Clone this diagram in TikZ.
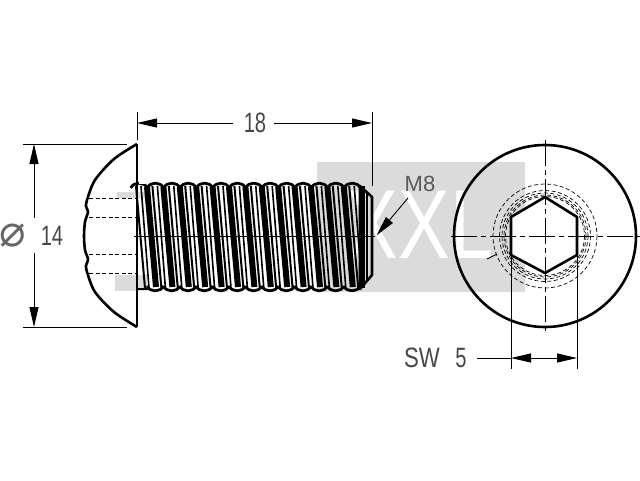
\documentclass[tikz,border=0pt]{standalone}
\usepackage{fontspec}
\usetikzlibrary{arrows.meta}
\setmainfont{Liberation Sans}
\newfontfamily\symbfont{DejaVu Sans}
\tikzset{
  dimline/.style={black,line width=0.9pt,{Triangle[length=20pt,width=9pt]}-{Triangle[length=20pt,width=9pt]}},
  dimend/.style={black,line width=0.9pt,-{Triangle[length=20pt,width=9pt]}},
  plainline/.style={black,line width=0.9pt},
  heavyline/.style={black,line width=2.6pt,line join=round},
  hiddenline/.style={black,line width=0.7pt,dash pattern=on 4pt off 2.5pt},
  centreline/.style={black,line width=0.9pt,dash pattern=on 26pt off 4pt on 5pt off 4pt},
  dimtext/.style={inner sep=0pt,text=black!72,xscale=0.72,font=\fontsize{28}{28}\selectfont},
  smalltext/.style={inner sep=0pt,text=black!65,font=\fontsize{22}{22}\selectfont},
}
\begin{document}
\begin{tikzpicture}[x=1pt,y=-1pt]
\useasboundingbox (0,0) rectangle (640,480);
\fill [black!14] (317,162) rectangle (525,292);
\fill [black!14] (117,192) rectangle (147,198);
\fill [black!14] (115,275) rectangle (147,291);
\node (logo) [inner sep=0pt,text=white,xscale=0.79,font=\fontsize{98}{98}\selectfont] at (420,225) {XXL};
% head
\draw [heavyline] (137,144) -- (137,327);
\draw [heavyline] plot [smooth,tension=0.5] coordinates {(137,144) (114,159) (95,180) (87,200) (86,207)};
\draw [heavyline] plot [smooth,tension=0.5] coordinates {(86,207) (88,212) (85,222) (84,236) (85,250) (88,259) (86,265)};
\draw [heavyline] plot [smooth,tension=0.5] coordinates {(86,265) (87,272) (95,292) (114,312) (137,327)};
\draw [heavyline] (137,289) -- (150,289);
\foreach \y in {198,217,254,273}
  \draw [hiddenline] (89,\y) -- (137,\y);
% thread
\foreach \i in {0,...,13} {
  \pgfmathsetmacro{\xc}{139+16.4*\i}
  \pgfmathsetmacro{\xl}{\xc-8.2}
  \pgfmathsetmacro{\xr}{\xc+8.2}
  \draw [black,line width=2.8pt,line join=round] (\xl,188) .. controls (\xl+3,181.5) and (\xr-3,181.5) .. (\xr,188);
  \draw [black,line width=2pt] (\xc-3,186) -- (\xc+6,288);
  \draw [black,line width=1.6pt] (\xc+2,186) -- (\xc+10,288);
}
\foreach \i in {0,...,12} {
  \pgfmathsetmacro{\xl}{147+16.4*\i}
  \pgfmathsetmacro{\xr}{\xl+16.4}
  \draw [black,line width=6pt] (\xl,187) -- (\xl+9,287);
  \draw [black,line width=2.8pt,line join=round] (\xl,286) .. controls (\xl+3,292.5) and (\xr-3,292.5) .. (\xr,286);
}
\fill [white] (138.5,178) rectangle (146,184);
\draw [heavyline,fill=black!14] (360,186) -- (372,197) -- (372,275) -- (360,289) -- cycle;
\draw [black,line width=6pt] (362,186) -- (362,288);
\draw [black,line width=1.6pt] (367,192) -- (367,281);
\node [draw=none,inner sep=0pt] (shaftaxisl) at (133,236) {};
\node [draw=none,inner sep=0pt] (shaftaxisr) at (376,236) {};
\draw [plainline] (shaftaxisl) -- (shaftaxisr);
% dimensions
\draw [plainline] (23,144) -- (127,144);
\draw [plainline] (23,327) -- (127,327);
\node (diasign) [inner sep=0pt,text=black!60,font=\symbfont\fontsize{44}{44}\selectfont] at (13,236) {⌀};
\node (diaval) [dimtext] at (52,236) {14};
\coordinate (diatop) at (34,144);
\coordinate (diabot) at (34,327);
\draw [dimend] (34,218) -- (diatop);
\draw [dimend] (34,253) -- (diabot);
\draw [plainline] (137,112) -- (137,140);
\draw [plainline] (372,112) -- (372,186);
\node (lenval) [dimtext] at (255,123) {18};
\coordinate (lenl) at (137,123);
\coordinate (lenr) at (372,123);
\draw [dimend] (233,123) -- (lenl);
\draw [dimend] (274,123) -- (lenr);
\node (mlabel) [smalltext] at (420,184) {M8};
\draw [dimend] (408,198) -- (shaftaxisr);
% end view
\node (headface) [draw,circle,black,line width=2.6pt,minimum size=182pt,inner sep=0pt] at (545,236) {};
\foreach \r in {39.5,41,43,45.5,52}
  \draw [hiddenline] (545,236) circle (\r);
\draw [heavyline,fill=white] (545,197) -- (577,217) -- (577,255) -- (545,273) -- (511,255) -- (511,217) -- cycle;
\draw [centreline] (451,236) -- (640,236);
\draw [centreline] (545,140) -- (545,332);
\draw [plainline] (487,259) -- (497,254);
\node (swlabel) [dimtext,xscale=1.1] at (422,358) {SW};
\node (swval) [dimtext] at (461,358) {5};
\coordinate (hexl) at (511,358);
\coordinate (hexr) at (577,358);
\draw [plainline] (511,254) -- (511,369);
\draw [plainline] (577,254) -- (577,369);
\draw [plainline] (477,358) -- (hexl);
\draw [dimline] (hexl) -- (hexr);
\end{tikzpicture}
\end{document}
